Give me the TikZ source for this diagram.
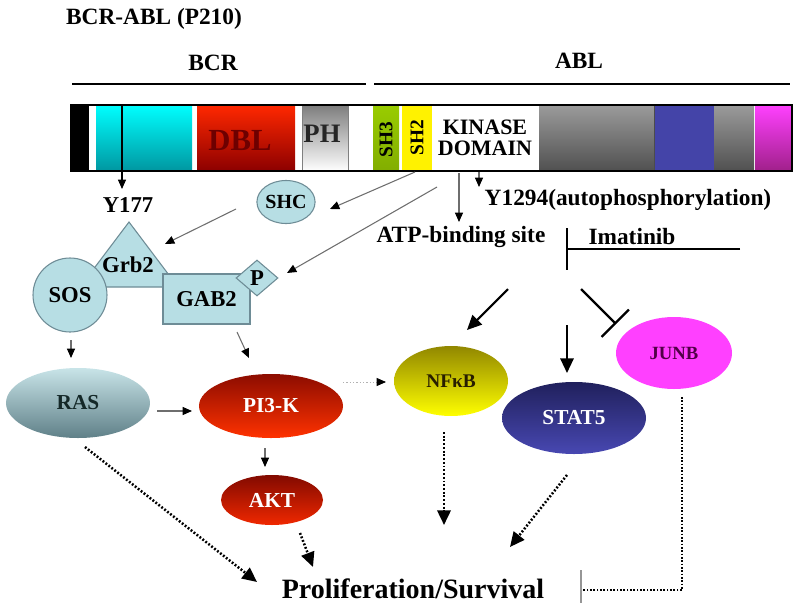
\documentclass[tikz,border=0pt]{standalone}
\usepackage{fontspec}
\setmainfont{Liberation Serif}
\usetikzlibrary{arrows.meta,shapes.geometric}
\newcommand\fsz[1]{\fontsize{#1}{#1}\selectfont}
\definecolor{pblue}{RGB}{183,222,228}
\definecolor{pbord}{RGB}{110,140,150}
\definecolor{arrgray}{RGB}{110,110,110}
\definecolor{cyantop}{RGB}{0,255,255}
\definecolor{cyanbot}{RGB}{0,150,160}
\definecolor{dbltop}{RGB}{255,40,0}
\definecolor{dblbot}{RGB}{140,0,0}
\definecolor{dbltext}{RGB}{110,0,0}
\definecolor{phtop}{RGB}{125,125,125}
\definecolor{sh3col}{RGB}{153,204,0}
\definecolor{graytop}{RGB}{155,155,155}
\definecolor{graybot}{RGB}{80,80,80}
\definecolor{ablblue}{RGB}{68,68,168}
\definecolor{magtop}{RGB}{255,64,255}
\definecolor{magbot}{RGB}{160,32,138}
\definecolor{rastop}{RGB}{200,228,232}
\definecolor{rasbot}{RGB}{95,128,136}
\definecolor{rastext}{RGB}{20,40,40}
\definecolor{pitop}{RGB}{140,12,0}
\definecolor{pibot}{RGB}{255,50,0}
\definecolor{akttop}{RGB}{130,10,0}
\definecolor{aktbot}{RGB}{240,40,0}
\definecolor{nftop}{RGB}{145,135,0}
\definecolor{nfbot}{RGB}{255,255,0}
\definecolor{nftext}{RGB}{40,30,0}
\definecolor{sttop}{RGB}{32,32,92}
\definecolor{stbot}{RGB}{72,72,178}
\definecolor{junbcol}{RGB}{255,64,255}
\definecolor{junbtext}{RGB}{80,0,70}
\definecolor{bargray}{RGB}{150,150,150}
\begin{document}
\begin{tikzpicture}[x=0.75pt,y=-0.75pt,font=\bfseries,
  thinarr/.style={draw=arrgray,line width=0.8pt,-{Triangle[length=7pt,width=6pt,color=black]}},
  thickarr/.style={draw=black,line width=1.6pt,-{Triangle[length=11pt,width=10pt]}},
  dotarr/.style={draw=black,line width=1.9pt,dash pattern=on 1.4pt off 1.4pt,-{Triangle[length=11pt,width=10pt,sep=0pt]}},
  pnode/.style={fill=pblue,draw=pbord,line width=0.8pt,inner sep=0pt},
  oval/.style={ellipse,inner sep=0pt}]
\useasboundingbox (0,0) rectangle (800,611);

% titles
\node (title) at (154,19) {\fsz{17.5}BCR-ABL (P210)};
\node (bcrlab) at (213,63) {\fsz{17.5}BCR};
\node (abllab) at (579,61) {\fsz{17.5}ABL};
\draw[line width=1.5pt] (72,84) coordinate (bcrL) -- (366,84) coordinate (bcrR);
\draw[line width=1.5pt] (374,84) coordinate (ablL) -- (790,84) coordinate (ablR);

% bar segments
\fill[black] (71,105) rectangle (89,171);
\shade[top color=cyantop,middle color=cyantop!92!black,bottom color=cyanbot] (96,105) rectangle (192,171);
\shade[top color=dbltop,bottom color=dblbot] (197,105) rectangle (295,171);
\shade[top color=phtop,middle color=gray!25,bottom color=white] (302,105) rectangle (348,171);
\draw[gray,line width=0.6pt] (302,105) -- (302,171) (348,105) -- (348,171);
\shade[top color=sh3col,bottom color=sh3col!85!black] (373,105) rectangle (399,171);
\fill[yellow] (402,105) rectangle (432,171);
\shade[top color=graytop,bottom color=graybot] (539,105) rectangle (654,171);
\fill[ablblue] (654,105) rectangle (714,171);
\draw[gray!60!black,line width=0.6pt] (654,105) -- (654,171) (714,105) -- (714,171);
\shade[top color=graytop,bottom color=graybot] (714,105) rectangle (754,171);
\shade[top color=magtop,bottom color=magbot] (755,105) rectangle (791,171);
\draw[line width=1.6pt] (71,105) rectangle (792,171);

\node[text=dbltext] (dbl) at (240,141) {\fsz{23}DBL};
\node[text=black!85] (ph) at (322,134) {\fsz{20}PH};
\node[rotate=90] (sh3) at (386,140) {\fsz{14.5}SH3};
\node[rotate=90] (sh2) at (417,138) {\fsz{14.5}SH2};
\node[align=center,inner sep=0pt] (kinase) at (485,138) {\fsz{16.5}KINASE\\[4pt]\fsz{16.5}DOMAIN};

% labels below the bar
\node (y177) at (128,205) {\fsz{17}Y177};
\node (y1294) at (628,200) {\fsz{17.5}Y1294(autophosphorylation)};
\node (atp) at (461,237) {\fsz{17.5}ATP-binding site};
\node (imatinib) at (632,237) {\fsz{17.5}Imatinib};

% Imatinib inhibition
\coordinate (imR) at (740,249);
\coordinate (imL) at (567,249);
\coordinate (imT) at (567,228);
\coordinate (imB) at (567,270);
\draw[line width=1.5pt] (imR) -- (imL);
\draw[line width=1.5pt] (imT) -- (imB);

% protein complex
\draw[pnode] (129,222) -- (80,287) -- (178,287) -- cycle;
\node (grb2) at (128,265) {\fsz{17}Grb2};
\node[pnode,circle,minimum size=55.5pt] (sos) at (70,295) {\fsz{17}SOS};
\node[pnode,rectangle,minimum width=65.25pt,minimum height=37.5pt] (gab2) at (206.5,299) {\fsz{17}GAB2};
\node[pnode,diamond,minimum width=31.5pt,minimum height=27pt] (p) at (257,278) {\fsz{17}P};
\node[pnode,ellipse,minimum width=43.5pt,minimum height=32.25pt] (shc) at (286,202) {\fsz{15}SHC};

% ovals
\node[oval,top color=rastop,bottom color=rasbot,minimum width=108pt,minimum height=52.5pt,text=rastext] (ras) at (78,403) {\fsz{16}RAS};
\node[oval,top color=pitop,bottom color=pibot,minimum width=108pt,minimum height=48pt,text=white] (pi3k) at (271,406) {\fsz{16}PI3-K};
\node[oval,top color=akttop,bottom color=aktbot,minimum width=76.5pt,minimum height=37.5pt,text=white] (akt) at (272,500) {\fsz{16}AKT};
\node[oval,top color=nftop,bottom color=nfbot,minimum width=85.5pt,minimum height=52.5pt,text=nftext] (nfkb) at (451,381) {\fsz{14.5}NFκB};
\node[oval,top color=sttop,bottom color=stbot,minimum width=108pt,minimum height=54pt,text=white] (stat5) at (574,418) {\fsz{16}STAT5};
\node[oval,fill=junbcol,minimum width=87pt,minimum height=54pt,text=junbtext] (junb) at (674,353) {\fsz{14}JUNB};

\node (prolif) at (413,589) {\fsz{21}Proliferation/Survival};

% thin arrows
\coordinate (y177s) at (122,106);
\coordinate (y177e) at (122,189);
\draw[thinarr,draw=black] (y177s) -- (y177e);
\coordinate (kin1) at (415,172);
\coordinate (shcE) at (330,209);
\draw[thinarr] (kin1) -- (shcE);
\coordinate (shcS) at (236,209);
\coordinate (grbE) at (165,244);
\draw[thinarr] (shcS) -- (grbE);
\coordinate (kin2) at (437,187);
\coordinate (pE) at (287,273);
\draw[thinarr] (kin2) -- (pE);
\coordinate (kin3) at (459,173);
\coordinate (atpN) at (459,222);
\draw[thinarr] (kin3) -- (atpN);
\coordinate (kin4) at (479,172);
\coordinate (y1294N) at (479,187);
\draw[thinarr] (kin4) -- (y1294N);
\coordinate (sosS) at (71,340);
\coordinate (rasN) at (71,358);
\draw[thinarr] (sosS) -- (rasN);
\coordinate (gabS) at (237,332);
\coordinate (piN) at (249,358);
\draw[thinarr] (gabS) -- (piN);
\coordinate (rasE) at (157,411);
\coordinate (piW) at (192,411);
\draw[thinarr] (rasE) -- (piW);
\coordinate (piS) at (265,448);
\coordinate (aktN) at (265,467);
\draw[thinarr] (piS) -- (aktN);
\coordinate (piE) at (343,382);
\coordinate (nfW) at (386,382);
\draw[thinarr,draw=gray!60,line width=0.6pt,dash pattern=on 1pt off 1.5pt] (piE) -- (nfW);

% thick arrows
\coordinate (j1) at (508,289);
\coordinate (nfN) at (467,330);
\draw[thickarr] (j1) -- (nfN);
\coordinate (j2) at (567,325);
\coordinate (stN) at (567,373);
\draw[thickarr] (j2) -- (stN);
\coordinate (j3) at (581,289);
\coordinate (junbW) at (616,324);
\draw[line width=1.6pt,-{Bar[width=29pt]}] (j3) -- (junbW);

% dotted arrows to proliferation
\coordinate (rasS) at (85,447);
\coordinate (pr1) at (257,582);
\draw[dotarr] (rasS) -- (pr1);
\coordinate (aktS) at (300,533);
\coordinate (pr2) at (313,567);
\draw[dotarr] (aktS) -- (pr2);
\coordinate (nfS) at (444,432);
\coordinate (pr3) at (444,525);
\draw[dotarr] (nfS) -- (pr3);
\coordinate (stS) at (567,475);
\coordinate (pr4) at (510,547);
\draw[dotarr] (stS) -- (pr4);
\coordinate (junbS) at (682,397);
\coordinate (pr5) at (582,590);
\draw[line width=1.6pt,dash pattern=on 1.2pt off 1.3pt] (junbS) |- (pr5);
\coordinate (barT) at (581,570);
\coordinate (barB) at (581,603);
\draw[bargray,line width=1pt] (barT) -- (barB);
\end{tikzpicture}
\end{document}
